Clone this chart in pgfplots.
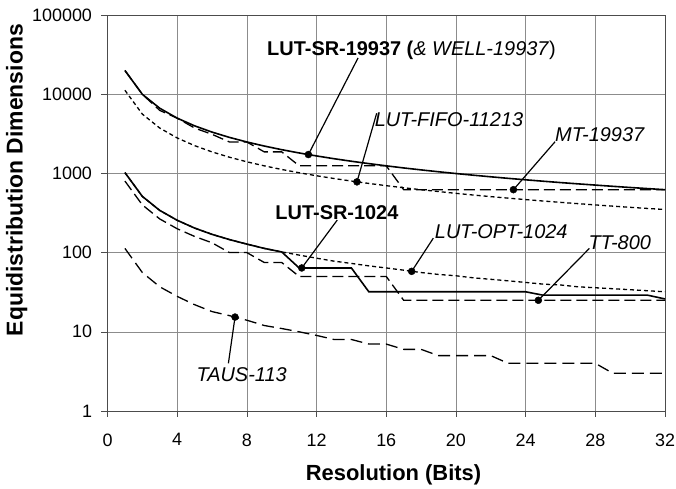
\documentclass[border=0pt]{standalone}
\usepackage{fontspec}
\setmainfont{Liberation Sans}
\usepackage{pgfplots}
\pgfplotsset{compat=1.18}

\begin{document}
\begin{tikzpicture}
\begin{axis}[
    scale only axis,
    width=557.5bp, height=396bp,
    ymode=log,
    xmin=0, xmax=32,
    ymin=1, ymax=100000,
    xtick={0,4,...,32},
    ytick={1,10,100,1000,10000,100000},
    yticklabels={1,10,100,1000,10000,100000},
    yminorticks=false,
    /pgf/number format/assume math mode=true,
    tick label style={font=\fontsize{18}{18}\selectfont},
    xticklabel style={yshift=-13bp},
    yticklabel style={xshift=-6bp},
    grid=major,
    major grid style={black!45, line width=0.6bp},
    axis line style={black!70, line width=0.9bp},
    tick style={black!70, line width=0.6bp},
    tick align=outside,
    major tick length=6bp,
    xtick pos=lower, ytick pos=left,
    xlabel={\textbf{Resolution (Bits)}},
    ylabel={\textbf{Equidistribution Dimensions}},
    every axis x label/.style={at={(axis description cs:0.513,-0.16)}, anchor=center, font=\fontsize{22}{22}\selectfont},
    every axis y label/.style={at={(axis description cs:-0.163,0.583)}, anchor=center, rotate=90, font=\fontsize{23}{23}\selectfont},
    clip=false,
]

% LUT-SR-19937 (& WELL-19937)
\addplot[black, mark=none, line width=1.6bp] coordinates {
(1,19937)(2,9968)(3,6645)(4,4984)(5,3987)(6,3322)(7,2848)(8,2492)
(9,2215)(10,1993)(11,1812)(12,1661)(13,1533)(14,1424)(15,1329)(16,1246)
(17,1172)(18,1107)(19,1049)(20,996)(21,949)(22,906)(23,866)(24,830)
(25,797)(26,766)(27,738)(28,712)(29,687)(30,664)(31,643)(32,623)};

% MT-19937
\addplot[black, mark=none, line width=1.3bp, dash pattern=on 11bp off 5bp] coordinates {
(1,19937)(2,9968)(3,6240)(4,4984)(5,3738)(6,3115)(7,2493)(8,2492)
(9,1869)(10,1869)(11,1248)(12,1246)(13,1246)(14,1246)(15,1246)(16,1246)
(17,623)(18,623)(19,623)(20,623)(21,623)(22,623)(23,623)(24,623)
(25,623)(26,623)(27,623)(28,623)(29,623)(30,623)(31,623)(32,623)};

% LUT-FIFO-11213
\addplot[black, mark=none, line width=1.3bp, dash pattern=on 4bp off 3bp] coordinates {
(1,11213)(2,5606)(3,3737)(4,2803)(5,2242)(6,1868)(7,1601)(8,1401)
(9,1245)(10,1121)(11,1019)(12,934)(13,862)(14,800)(15,747)(16,700)
(17,659)(18,622)(19,590)(20,560)(21,533)(22,509)(23,487)(24,467)
(25,448)(26,431)(27,415)(28,400)(29,386)(30,373)(31,361)(32,350)};

% LUT-SR-1024
\addplot[black, mark=none, line width=1.6bp] coordinates {
(1,1024)(2,512)(3,341)(4,256)(5,204)(6,170)(7,146)(8,128)
(9,113)(10,102)(11,64)(12,64)(13,64)(14,64)(15,32)(16,32)
(17,32)(18,32)(19,32)(20,32)(21,32)(22,32)(23,32)(24,32)
(25,29)(26,29)(27,29)(28,29)(29,29)(30,29)(31,29)(32,26)};

% LUT-OPT-1024
\addplot[black, mark=none, line width=1.3bp, dash pattern=on 4bp off 3bp] coordinates {
(1,1024)(2,512)(3,341)(4,256)(5,204)(6,170)(7,146)(8,128)
(9,113)(10,102)(11,93)(12,85)(13,78)(14,73)(15,68)(16,64)
(17,60)(18,56)(19,53)(20,51)(21,48)(22,46)(23,44)(24,42)
(25,40)(26,39)(27,37)(28,36)(29,35)(30,34)(31,33)(32,32)};

% TT-800
\addplot[black, mark=none, line width=1.3bp, dash pattern=on 11bp off 5bp] coordinates {
(1,800)(2,400)(3,266)(4,200)(5,160)(6,133)(7,100)(8,100)
(9,75)(10,75)(11,50)(12,50)(13,50)(14,50)(15,50)(16,50)
(17,25)(18,25)(19,25)(20,25)(21,25)(22,25)(23,25)(24,25)
(25,25)(26,25)(27,25)(28,25)(29,25)(30,25)(31,25)(32,25)};

% TAUS-113
\addplot[black, mark=none, line width=1.3bp, dash pattern=on 12bp off 6bp] coordinates {
(1,113)(2,56)(3,37)(4,28)(5,22)(6,18)(7,16)(8,14)
(9,12)(10,11)(11,10)(12,9)(13,8)(14,8)(15,7)(16,7)
(17,6)(18,6)(19,5)(20,5)(21,5)(22,5)(23,4)(24,4)
(25,4)(26,4)(27,4)(28,4)(29,3)(30,3)(31,3)(32,3)};

% pointer lines
\addplot[black, mark=none, line width=1.2bp] coordinates {(14.38,28650) (11.53,1730)};
\addplot[black, mark=none, line width=1.2bp] coordinates {(15.45,5740) (14.32,782)};
\addplot[black, mark=none, line width=1.2bp] coordinates {(25.69,2512) (23.3,623)};
\addplot[black, mark=none, line width=1.2bp] coordinates {(13.19,258) (11.15,64)};
\addplot[black, mark=none, line width=1.2bp] coordinates {(18.70,152) (17.46,58)};
\addplot[black, mark=none, line width=1.2bp] coordinates {(27.66,113) (24.73,25)};
\addplot[black, mark=none, line width=1.2bp] coordinates {(6.94,4.0) (7.32,15.35)};

% dots on the curves
\addplot[black, only marks, mark=*, mark size=3.5bp] coordinates {
(11.53,1730) (14.32,782) (23.3,623) (11.15,64) (17.46,58) (24.73,25) (7.32,15.35)};

% labels
\begin{scope}[every node/.style={inner sep=0pt, anchor=center, font=\fontsize{20}{20}\selectfont}]
\node at (axis cs:17.45,36150) {\textbf{LUT-SR-19937 (}\textit{\& WELL-19937})};
\node at (axis cs:19.6,4720) {\textit{LUT-FIFO-11213}};
\node at (axis cs:28.27,3100) {\textit{MT-19937}};
\node at (axis cs:13.17,316) {\textbf{LUT-SR-1024}};
\node at (axis cs:22.6,182) {\textit{LUT-OPT-1024}};
\node at (axis cs:29.4,134) {\textit{TT-800}};
\node at (axis cs:7.70,2.92) {\textit{TAUS-113}};
\end{scope}
\end{axis}
\pgfresetboundingbox
\path[use as bounding box] (-107.5bp,-78bp) rectangle (568.5bp,411bp);
\end{tikzpicture}
\end{document}
